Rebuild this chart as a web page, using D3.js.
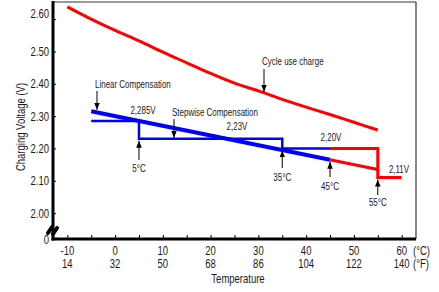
<!DOCTYPE html>
<html>
<head>
<meta charset="utf-8">
<script src="https://cdn.jsdelivr.net/npm/d3@7"></script>
<style>
  html, body { margin: 0; padding: 0; background: #fff; }
  svg text { font-family: "Liberation Sans", Arial, sans-serif; fill: #1a1a1a; }
</style>
</head>
<body>
<div id="chart"></div>
<script>
// charging voltage vs temperature, per cell

// cycle use charge curve
const cycleTemps = [-10, -5, 0, 5, 10, 15, 20, 25, 30, 35, 40, 45, 50, 55];
const cycleVolts = [2.638, 2.600, 2.565, 2.533, 2.498, 2.465, 2.432, 2.402, 2.378, 2.352, 2.328, 2.305, 2.281, 2.257];

// linear compensation (blue part, then red part)
const linearBlueTemps = [-5, 45];
const linearBlueVolts = [2.315, 2.165];
const linearRedTemps = [45, 55];
const linearRedVolts = [2.165, 2.135];

// stepwise compensation
const stepBlueTemps = [-5, 5, 5, 35, 35, 45];
const stepBlueVolts = [2.285, 2.285, 2.23, 2.23, 2.20, 2.20];
const stepRedTemps = [45, 55, 55, 60];
const stepRedVolts = [2.20, 2.20, 2.11, 2.11];

// axis ticks
const yTicks = [2.0, 2.1, 2.2, 2.3, 2.4, 2.5, 2.6];
const xTicksC = [-10, 0, 10, 20, 30, 40, 50, 60];
const xTicksF = ["14", "32", "50", "68", "86", "104", "122", "140"];
const xMinorTicks = [-10, -5, 0, 5, 10, 15, 20, 25, 30, 35, 40, 45, 50, 55, 60];

(function () {
  const W = 439, H = 292;
  const pLeft = 53, pRight = 416, pTop = 2, pBottom = 239;
  const NARROW = 0.76; // original uses a condensed face

  const svg = d3.select("#chart").append("svg")
    .attr("width", W)
    .attr("height", H);

  const x = d3.scaleLinear().domain([-13, 63]).range([pLeft, pRight]);
  const y = d3.scaleLinear().domain([1.92, 2.653]).range([pBottom, pTop]);

  const zip = (a, b) => a.map((d, i) => [d, b[i]]);

  // narrow text helper
  function ntext(px, py, str, size, anchor) {
    return svg.append("text")
      .attr("transform", `translate(${px},${py}) scale(${NARROW},1)`)
      .attr("text-anchor", anchor || "middle")
      .attr("font-size", size)
      .text(str);
  }

  // frame
  svg.append("line")
    .attr("x1", pLeft).attr("x2", pRight).attr("y1", pTop).attr("y2", pTop)
    .attr("stroke", "#777").attr("stroke-width", 1.5);
  svg.append("line")
    .attr("x1", pRight).attr("x2", pRight).attr("y1", pTop).attr("y2", pBottom)
    .attr("stroke", "#111").attr("stroke-width", 1);

  // y axis
  const yAxis = svg.append("g")
    .attr("transform", `translate(${pLeft},0)`)
    .call(d3.axisLeft(y).tickValues(yTicks).tickFormat(d3.format(".2f")).tickSize(-3).tickPadding(4));
  yAxis.select(".domain").remove();
  yAxis.attr("font-family", null);
  yAxis.selectAll(".tick text")
    .attr("x", null)
    .attr("font-size", 12.5)
    .attr("transform", d => `translate(-4,${d === 2.6 ? -6 : 0}) scale(${NARROW},1)`);

  ntext(pLeft - 4, pBottom + 5, "0", 12.5, "end");

  // x axis (ticks every 5 deg C, labels every 10)
  const xAxis = svg.append("g")
    .attr("transform", `translate(0,${pBottom})`)
    .call(d3.axisBottom(x).tickValues(xMinorTicks).tickSize(-4).tickFormat(""));
  xAxis.select(".domain").remove();

  xTicksC.forEach((t, i) => {
    ntext(x(t), 255, t < 0 ? "-" + Math.abs(t) : String(t), 12.5);
    ntext(x(t), 268, xTicksF[i], 12.5);
  });
  ntext(413, 255, "(°C)", 12.5, "start");
  ntext(413, 268, "(°F)", 12.5, "start");

  ntext(238, 283, "Temperature", 12.5);

  svg.append("text")
    .attr("transform", `translate(25,127) rotate(-90) scale(${NARROW},1)`)
    .attr("text-anchor", "middle")
    .attr("font-size", 12.5)
    .text("Charging Voltage (V)");

  // thick axis lines
  svg.append("line")
    .attr("x1", pLeft).attr("x2", pLeft).attr("y1", pTop - 1).attr("y2", pBottom + 1.5)
    .attr("stroke", "#000").attr("stroke-width", 3);
  svg.append("line")
    .attr("x1", pLeft - 1.5).attr("x2", pRight).attr("y1", pBottom).attr("y2", pBottom)
    .attr("stroke", "#000").attr("stroke-width", 3);

  // axis break mark
  const brk = svg.append("g").attr("transform", `translate(${pLeft},230)`);
  brk.append("path").attr("d", "M-5,3 L-1,-3").attr("stroke", "#000").attr("stroke-width", 4).attr("stroke-linecap", "round");
  brk.append("path").attr("d", "M0,4 L4,-2").attr("stroke", "#000").attr("stroke-width", 4).attr("stroke-linecap", "round");

  // lines
  const line = d3.line().x(d => x(d[0])).y(d => y(d[1]));
  const curve = d3.line().x(d => x(d[0])).y(d => y(d[1])).curve(d3.curveMonotoneX);

  const BLUE = "#0000ff", RED = "#ff0000";

  svg.append("path").datum(zip(stepBlueTemps, stepBlueVolts))
    .attr("d", line).attr("fill", "none").attr("stroke", BLUE).attr("stroke-width", 2.5);
  svg.append("path").datum(zip(linearBlueTemps, linearBlueVolts))
    .attr("d", line).attr("fill", "none").attr("stroke", BLUE).attr("stroke-width", 4);
  svg.append("path").datum(zip(stepRedTemps, stepRedVolts))
    .attr("d", line).attr("fill", "none").attr("stroke", RED).attr("stroke-width", 3);
  svg.append("path").datum(zip(linearRedTemps, linearRedVolts))
    .attr("d", line).attr("fill", "none").attr("stroke", RED).attr("stroke-width", 3);
  svg.append("path").datum(zip(cycleTemps, cycleVolts))
    .attr("d", curve).attr("fill", "none").attr("stroke", RED).attr("stroke-width", 3);

  // arrowheads
  svg.append("defs").append("marker")
    .attr("id", "arr")
    .attr("viewBox", "0 0 10 10")
    .attr("refX", 10).attr("refY", 5)
    .attr("markerWidth", 7).attr("markerHeight", 7)
    .attr("markerUnits", "userSpaceOnUse")
    .attr("orient", "auto")
    .append("path").attr("d", "M0,1 L10,5 L0,9 Z").attr("fill", "#000");

  function arrow(px, y1, y2) {
    svg.append("line")
      .attr("x1", px).attr("x2", px).attr("y1", y1).attr("y2", y2)
      .attr("stroke", "#000").attr("stroke-width", 1)
      .attr("marker-end", "url(#arr)");
  }
  const label = (px, py, txt, anchor) => ntext(px, py, txt, 10.5, anchor);

  // callouts pointing down
  label(95, 88, "Linear Compensation", "start");
  arrow(97, 91, y(2.3135) - 2);
  label(172, 116, "Stepwise Compensation", "start");
  arrow(174, 119, y(2.23) - 1);
  label(262, 65, "Cycle use charge", "start");
  arrow(264, 69, y(2.372) - 1);

  // temperature markers pointing up
  [[5, 2.23, 160, 172], [35, 2.20, 168, 181], [45, 2.165, 177, 190], [55, 2.11, 195, 206]].forEach(d => {
    arrow(x(d[0]), d[2], y(d[1]) + 2);
    label(x(d[0]), d[3], d[0] + "°C");
  });

  // voltage values
  label(143, 114, "2,285V");
  label(237, 130, "2,23V");
  label(331, 141, "2,20V");
  label(399, 173, "2,11V");
})();
</script>
</body>
</html>
